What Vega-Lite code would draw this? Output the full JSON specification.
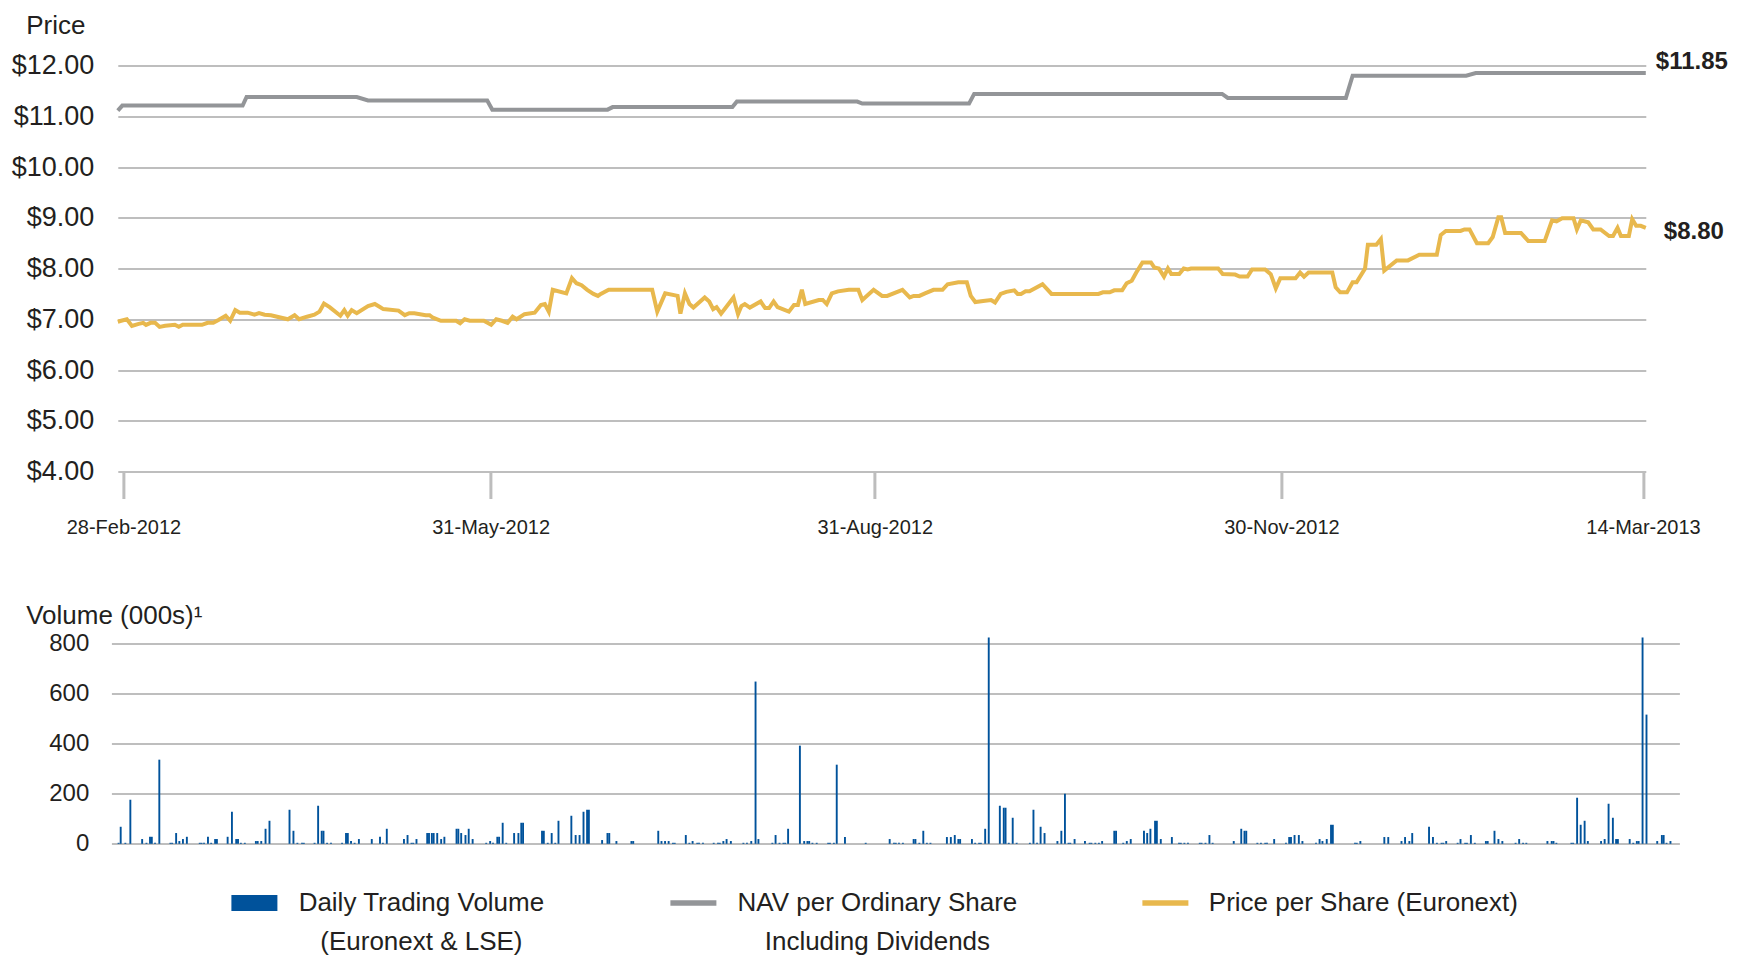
{
  "$schema": "https://vega.github.io/schema/vega-lite/v6.json",
  "background": "white",
  "padding": {"left": 10.4, "top": 12.5, "right": 4, "bottom": 4},
  "config": {
    "font": "Liberation Sans, Arial, sans-serif",
    "view": {"stroke": null}
  },
  "datasets": {
    "nav": [
      {"n": 0, "v": 11.11}, {"n": 0.8, "v": 11.21}, {"n": 22.1, "v": 11.21}, {"n": 22.8, "v": 11.38},
      {"n": 42.3, "v": 11.38}, {"n": 44.3, "v": 11.31}, {"n": 65.4, "v": 11.31}, {"n": 66.3, "v": 11.13},
      {"n": 86.7, "v": 11.13}, {"n": 87.6, "v": 11.18}, {"n": 108.8, "v": 11.18}, {"n": 109.6, "v": 11.29},
      {"n": 130.9, "v": 11.29}, {"n": 131.8, "v": 11.25}, {"n": 150.7, "v": 11.25}, {"n": 151.6, "v": 11.44},
      {"n": 195.5, "v": 11.44}, {"n": 196.5, "v": 11.36}, {"n": 217.4, "v": 11.36}, {"n": 218.6, "v": 11.8},
      {"n": 238.7, "v": 11.8}, {"n": 240.4, "v": 11.85}, {"n": 270.5, "v": 11.85}
    ],
    "price": [
      {"n":0,"v":6.95},{"n":0.6,"v":6.97},{"n":1.6,"v":7.0},{"n":2.5,"v":6.87},{"n":3.7,"v":6.91},{"n":4.5,"v":6.93},{"n":5.0,"v":6.89},{"n":5.8,"v":6.93},{"n":6.6,"v":6.93},{"n":7.4,"v":6.85},{"n":8.4,"v":6.87},{"n":10.1,"v":6.89},{"n":10.8,"v":6.85},{"n":11.5,"v":6.89},{"n":14.9,"v":6.89},{"n":15.9,"v":6.93},{"n":16.9,"v":6.93},{"n":17.9,"v":6.99},{"n":19.1,"v":7.07},{"n":19.9,"v":6.97},{"n":20.8,"v":7.18},{"n":21.6,"v":7.13},{"n":23.0,"v":7.13},{"n":24.2,"v":7.09},{"n":25.0,"v":7.12},{"n":26.0,"v":7.09},{"n":27.1,"v":7.08},{"n":30.1,"v":7.0},{"n":31.3,"v":7.08},{"n":32.1,"v":7.0},{"n":33.5,"v":7.05},{"n":34.8,"v":7.09},{"n":35.7,"v":7.15},{"n":36.5,"v":7.31},{"n":37.5,"v":7.24},{"n":39.4,"v":7.07},{"n":40.1,"v":7.18},{"n":40.7,"v":7.07},{"n":41.4,"v":7.18},{"n":42.3,"v":7.12},{"n":44.3,"v":7.26},{"n":45.5,"v":7.3},{"n":46.4,"v":7.24},{"n":47.0,"v":7.2},{"n":49.7,"v":7.17},{"n":50.8,"v":7.08},{"n":51.6,"v":7.12},{"n":52.5,"v":7.12},{"n":54.5,"v":7.08},{"n":55.2,"v":7.08},{"n":55.8,"v":7.03},{"n":57.2,"v":6.97},{"n":59.9,"v":6.97},{"n":60.6,"v":6.92},{"n":61.4,"v":7.0},{"n":62.3,"v":6.97},{"n":64.8,"v":6.97},{"n":66.1,"v":6.89},{"n":67.0,"v":7.0},{"n":68.0,"v":6.97},{"n":69.0,"v":6.93},{"n":69.9,"v":7.05},{"n":70.6,"v":7.0},{"n":72.0,"v":7.1},{"n":73.8,"v":7.13},{"n":74.9,"v":7.28},{"n":75.6,"v":7.3},{"n":76.3,"v":7.15},{"n":77.0,"v":7.58},{"n":79.4,"v":7.51},{"n":80.4,"v":7.81},{"n":81.2,"v":7.71},{"n":82.1,"v":7.67},{"n":83.1,"v":7.58},{"n":84.2,"v":7.5},{"n":85.0,"v":7.46},{"n":85.5,"v":7.5},{"n":86.9,"v":7.58},{"n":94.6,"v":7.58},{"n":95.5,"v":7.15},{"n":96.9,"v":7.51},{"n":99.1,"v":7.46},{"n":99.6,"v":7.11},{"n":100.4,"v":7.51},{"n":101.2,"v":7.3},{"n":101.9,"v":7.23},{"n":103.9,"v":7.43},{"n":104.7,"v":7.35},{"n":105.4,"v":7.2},{"n":106.0,"v":7.24},{"n":106.8,"v":7.11},{"n":109.0,"v":7.43},{"n":109.8,"v":7.1},{"n":110.4,"v":7.26},{"n":111.0,"v":7.3},{"n":111.9,"v":7.23},{"n":113.8,"v":7.35},{"n":114.6,"v":7.22},{"n":115.3,"v":7.22},{"n":116.1,"v":7.35},{"n":116.8,"v":7.24},{"n":118.8,"v":7.15},{"n":119.7,"v":7.28},{"n":120.4,"v":7.28},{"n":121.1,"v":7.58},{"n":121.7,"v":7.3},{"n":124.1,"v":7.38},{"n":124.8,"v":7.38},{"n":125.5,"v":7.3},{"n":126.4,"v":7.51},{"n":127.5,"v":7.55},{"n":129.4,"v":7.58},{"n":131.1,"v":7.58},{"n":131.8,"v":7.38},{"n":133.8,"v":7.58},{"n":135.3,"v":7.46},{"n":136.2,"v":7.46},{"n":138.9,"v":7.58},{"n":140.2,"v":7.43},{"n":140.9,"v":7.46},{"n":141.9,"v":7.46},{"n":142.9,"v":7.51},{"n":144.4,"v":7.58},{"n":146.0,"v":7.58},{"n":146.9,"v":7.69},{"n":148.8,"v":7.73},{"n":150.3,"v":7.73},{"n":151.0,"v":7.46},{"n":151.8,"v":7.34},{"n":153.2,"v":7.36},{"n":154.6,"v":7.38},{"n":155.3,"v":7.33},{"n":156.3,"v":7.5},{"n":157.3,"v":7.54},{"n":158.7,"v":7.57},{"n":159.3,"v":7.5},{"n":159.9,"v":7.5},{"n":160.7,"v":7.55},{"n":161.4,"v":7.55},{"n":163.7,"v":7.69},{"n":165.3,"v":7.5},{"n":173.6,"v":7.5},{"n":174.4,"v":7.53},{"n":175.6,"v":7.53},{"n":176.4,"v":7.57},{"n":177.8,"v":7.57},{"n":178.6,"v":7.71},{"n":179.5,"v":7.76},{"n":180.3,"v":7.92},{"n":181.4,"v":8.12},{"n":182.9,"v":8.12},{"n":183.5,"v":8.02},{"n":184.3,"v":8.0},{"n":185.2,"v":7.84},{"n":185.9,"v":8.0},{"n":186.5,"v":7.89},{"n":187.9,"v":7.89},{"n":188.7,"v":8.0},{"n":189.4,"v":7.98},{"n":190.0,"v":8.0},{"n":194.8,"v":8.0},{"n":195.6,"v":7.89},{"n":197.8,"v":7.88},{"n":198.6,"v":7.84},{"n":200.0,"v":7.84},{"n":200.8,"v":7.98},{"n":203.1,"v":7.98},{"n":204.1,"v":7.89},{"n":205.0,"v":7.61},{"n":205.8,"v":7.81},{"n":208.5,"v":7.81},{"n":209.3,"v":7.92},{"n":210.0,"v":7.84},{"n":210.8,"v":7.92},{"n":215.0,"v":7.92},{"n":215.6,"v":7.63},{"n":216.4,"v":7.53},{"n":217.6,"v":7.53},{"n":218.6,"v":7.73},{"n":219.3,"v":7.73},{"n":220.8,"v":8.0},{"n":221.3,"v":8.47},{"n":222.8,"v":8.47},{"n":223.6,"v":8.58},{"n":224.2,"v":7.96},{"n":226.4,"v":8.16},{"n":228.4,"v":8.16},{"n":230.4,"v":8.27},{"n":233.5,"v":8.27},{"n":234.2,"v":8.66},{"n":235.1,"v":8.74},{"n":237.7,"v":8.74},{"n":238.4,"v":8.77},{"n":239.3,"v":8.77},{"n":240.6,"v":8.5},{"n":242.6,"v":8.5},{"n":243.4,"v":8.62},{"n":244.4,"v":9.01},{"n":244.9,"v":9.01},{"n":245.6,"v":8.7},{"n":248.4,"v":8.7},{"n":249.7,"v":8.54},{"n":252.6,"v":8.54},{"n":253.9,"v":8.95},{"n":254.7,"v":8.93},{"n":255.7,"v":8.99},{"n":257.7,"v":8.99},{"n":258.3,"v":8.77},{"n":259.0,"v":8.95},{"n":260.3,"v":8.91},{"n":261.2,"v":8.77},{"n":262.5,"v":8.77},{"n":264.0,"v":8.64},{"n":264.7,"v":8.64},{"n":265.5,"v":8.8},{"n":266.1,"v":8.64},{"n":267.5,"v":8.64},{"n":268.1,"v":8.97},{"n":268.8,"v":8.84},{"n":269.6,"v":8.84},{"n":270.5,"v":8.8}
    ],
    "volume": [
      {"k":0.6,"vol":4},{"k":1.2,"vol":68},{"k":2.5,"vol":4},{"k":3.9,"vol":176},{"k":7.2,"vol":19},{"k":8.4,"vol":4},{"k":9.4,"vol":28},{"k":9.9,"vol":28},{"k":10.8,"vol":4},{"k":12.0,"vol":336},{"k":15.1,"vol":4},{"k":15.6,"vol":4},{"k":16.7,"vol":43},{"k":17.6,"vol":11},{"k":18.6,"vol":19},{"k":19.7,"vol":28},{"k":23.3,"vol":4},{"k":23.8,"vol":4},{"k":24.5,"vol":4},{"k":25.6,"vol":28},{"k":26.5,"vol":4},{"k":27.6,"vol":19},{"k":28.1,"vol":19},{"k":31.1,"vol":28},{"k":32.3,"vol":128},{"k":33.5,"vol":19},{"k":34.0,"vol":19},{"k":34.8,"vol":4},{"k":35.9,"vol":4},{"k":39.0,"vol":11},{"k":39.5,"vol":11},{"k":40.5,"vol":11},{"k":41.7,"vol":60},{"k":42.8,"vol":92},{"k":48.4,"vol":136},{"k":49.5,"vol":52},{"k":50.6,"vol":4},{"k":51.9,"vol":4},{"k":52.4,"vol":4},{"k":55.4,"vol":4},{"k":56.4,"vol":152},{"k":57.4,"vol":52},{"k":57.9,"vol":52},{"k":58.9,"vol":4},{"k":60.0,"vol":4},{"k":63.1,"vol":4},{"k":64.2,"vol":43},{"k":64.7,"vol":43},{"k":65.6,"vol":11},{"k":66.6,"vol":4},{"k":67.8,"vol":19},{"k":71.4,"vol":19},{"k":73.7,"vol":28},{"k":74.5,"vol":4},{"k":75.6,"vol":60},{"k":80.4,"vol":19},{"k":81.4,"vol":35},{"k":82.5,"vol":4},{"k":83.0,"vol":4},{"k":83.9,"vol":19},{"k":86.9,"vol":43},{"k":87.4,"vol":43},{"k":88.2,"vol":43},{"k":88.7,"vol":43},{"k":89.7,"vol":43},{"k":90.8,"vol":19},{"k":91.7,"vol":28},{"k":95.1,"vol":60},{"k":95.6,"vol":60},{"k":96.4,"vol":43},{"k":97.6,"vol":35},{"k":98.5,"vol":60},{"k":99.6,"vol":19},{"k":103.4,"vol":4},{"k":104.5,"vol":11},{"k":105.3,"vol":4},{"k":106.5,"vol":28},{"k":107.0,"vol":28},{"k":108.0,"vol":84},{"k":109.0,"vol":4},{"k":111.2,"vol":43},{"k":112.4,"vol":43},{"k":113.2,"vol":84},{"k":113.7,"vol":84},{"k":119.0,"vol":52},{"k":119.5,"vol":52},{"k":120.6,"vol":4},{"k":121.7,"vol":43},{"k":122.7,"vol":4},{"k":123.6,"vol":92},{"k":127.2,"vol":112},{"k":128.4,"vol":35},{"k":129.5,"vol":35},{"k":130.6,"vol":128},{"k":131.6,"vol":136},{"k":132.1,"vol":136},{"k":135.8,"vol":15},
      {"k":137.3,"vol":43},{"k":137.8,"vol":43},{"k":139.8,"vol":11},{"k":144.0,"vol":11},{"k":144.5,"vol":11},{"k":151.5,"vol":52},{"k":152.4,"vol":11},{"k":153.4,"vol":11},{"k":154.4,"vol":11},{"k":155.6,"vol":4},{"k":156.1,"vol":4},{"k":159.2,"vol":35},{"k":160.2,"vol":4},{"k":161.1,"vol":11},{"k":162.4,"vol":4},{"k":162.9,"vol":4},{"k":164.0,"vol":4},{"k":167.0,"vol":4},{"k":168.2,"vol":4},{"k":168.7,"vol":4},{"k":169.7,"vol":11},{"k":170.6,"vol":19},{"k":171.8,"vol":11},{"k":175.3,"vol":4},{"k":176.3,"vol":4},{"k":177.5,"vol":11},{"k":178.7,"vol":648},{"k":179.5,"vol":19},{"k":183.4,"vol":4},{"k":184.3,"vol":35},{"k":185.4,"vol":4},{"k":186.5,"vol":4},{"k":187.0,"vol":4},{"k":187.8,"vol":60},{"k":191.1,"vol":392},{"k":192.3,"vol":11},{"k":193.2,"vol":11},{"k":193.7,"vol":11},{"k":194.6,"vol":4},{"k":195.8,"vol":4},{"k":199.0,"vol":4},{"k":199.5,"vol":4},{"k":200.6,"vol":4},{"k":201.4,"vol":316},{"k":203.7,"vol":27},{"k":209.5,"vol":4},{"k":216.2,"vol":19},{"k":217.4,"vol":4},{"k":217.9,"vol":4},{"k":218.8,"vol":4},{"k":219.9,"vol":4},{"k":222.9,"vol":19},{"k":223.4,"vol":19},{"k":224.5,"vol":4},{"k":225.6,"vol":52},{"k":226.6,"vol":4},{"k":227.6,"vol":4},{"k":232.2,"vol":27},{"k":233.3,"vol":27},{"k":234.4,"vol":35},{"k":235.4,"vol":19},{"k":235.9,"vol":19},{"k":239.2,"vol":19},{"k":240.1,"vol":4},{"k":241.2,"vol":4},{"k":241.7,"vol":4},{"k":242.9,"vol":60},{"k":243.9,"vol":824},{"k":247.0,"vol":152},{"k":248.1,"vol":144},{"k":248.6,"vol":144},{"k":249.5,"vol":4},{"k":250.6,"vol":104},{"k":251.7,"vol":4},{"k":255.4,"vol":4},{"k":256.4,"vol":136},{"k":257.4,"vol":4},{"k":258.4,"vol":68},{"k":259.5,"vol":43},{"k":263.1,"vol":11},{"k":264.2,"vol":52},{"k":265.2,"vol":200},{"k":266.2,"vol":4},{"k":266.7,"vol":4},{"k":267.9,"vol":19},{"k":270.8,"vol":11},{"k":272.1,"vol":4},{"k":272.6,"vol":4},{"k":273.7,"vol":4},{"k":274.7,"vol":4},{"k":275.6,"vol":11},{"k":279.0,"vol":52},{"k":279.5,"vol":52},{"k":281.5,"vol":4},{"k":282.5,"vol":11},{"k":283.6,"vol":19},{"k":287.3,"vol":52},{"k":288.2,"vol":43},{"k":289.1,"vol":60},{"k":290.4,"vol":92},{"k":290.9,"vol":92},{"k":292.0,"vol":19},{"k":295.1,"vol":27},{"k":297.1,"vol":4},{"k":297.6,"vol":4},{"k":298.6,"vol":4},{"k":299.6,"vol":4},
      {"k":302.9,"vol":4},{"k":303.4,"vol":4},{"k":304.5,"vol":4},{"k":305.6,"vol":35},{"k":306.5,"vol":4},{"k":312.4,"vol":11},{"k":314.5,"vol":60},{"k":315.4,"vol":52},{"k":315.9,"vol":52},{"k":319.0,"vol":4},{"k":320.0,"vol":4},{"k":321.2,"vol":4},{"k":321.7,"vol":4},{"k":323.7,"vol":19},{"k":327.0,"vol":4},{"k":327.9,"vol":27},{"k":328.4,"vol":27},{"k":329.4,"vol":35},{"k":330.6,"vol":35},{"k":331.6,"vol":11},{"k":335.4,"vol":4},{"k":336.4,"vol":19},{"k":337.2,"vol":11},{"k":338.4,"vol":19},{"k":339.6,"vol":76},{"k":340.1,"vol":76},{"k":346.3,"vol":4},{"k":346.8,"vol":4},{"k":347.8,"vol":11},{"k":354.5,"vol":27},{"k":355.6,"vol":27},{"k":359.3,"vol":11},{"k":360.3,"vol":27},{"k":361.5,"vol":11},{"k":362.3,"vol":43},{"k":367.0,"vol":68},{"k":368.1,"vol":27},{"k":369.2,"vol":4},{"k":370.5,"vol":4},{"k":371.0,"vol":4},{"k":371.8,"vol":11},{"k":375.0,"vol":4},{"k":375.8,"vol":19},{"k":377.1,"vol":4},{"k":377.6,"vol":4},{"k":378.7,"vol":35},{"k":379.8,"vol":4},{"k":382.9,"vol":11},{"k":383.4,"vol":11},{"k":385.3,"vol":52},{"k":386.4,"vol":19},{"k":387.5,"vol":11},{"k":391.2,"vol":4},{"k":392.2,"vol":19},{"k":393.3,"vol":4},{"k":394.2,"vol":4},{"k":400.1,"vol":11},{"k":401.3,"vol":11},{"k":401.8,"vol":11},{"k":402.6,"vol":4},{"k":406.8,"vol":4},{"k":407.3,"vol":4},{"k":408.4,"vol":184},{"k":409.4,"vol":76},{"k":410.5,"vol":92},{"k":411.4,"vol":11},{"k":415.1,"vol":11},{"k":416.1,"vol":19},{"k":417.2,"vol":160},{"k":418.4,"vol":104},{"k":419.3,"vol":19},{"k":419.8,"vol":19},{"k":423.1,"vol":19},{"k":424.1,"vol":4},{"k":425.1,"vol":11},{"k":425.6,"vol":11},{"k":426.7,"vol":824},{"k":427.8,"vol":516},{"k":430.8,"vol":11},{"k":432.1,"vol":35},{"k":432.6,"vol":35},{"k":433.4,"vol":4},{"k":434.5,"vol":11}
    ]
  },
  "spacing": 64,
  "vconcat": [
    {
      "width": 1534.4,
      "height": 406,
      "layer": [
        {
          "data": {"name": "nav"},
          "mark": {"type": "line", "strokeWidth": 4, "interpolate": "linear"},
          "encoding": {
            "x": {
              "field": "n", "type": "quantitative",
              "scale": {"domain": [0, 270.5], "range": [6.4, 1534.4], "nice": false, "zero": false},
              "axis": {
                "values": [1, 66, 134, 206, 270],
                "labelExpr": "datum.value == 1 ? '28-Feb-2012' : datum.value == 66 ? '31-May-2012' : datum.value == 134 ? '31-Aug-2012' : datum.value == 206 ? '30-Nov-2012' : '14-Mar-2013'",
                "grid": false, "domain": false, "ticks": true, "tickSize": 27, "tickWidth": 3, "tickColor": "#BDBDBD",
                "labelFontSize": 20, "labelPadding": 19.5, "labelColor": "#231F20", "labelFlush": false, "labelOverlap": false,
                "title": null
              }
            },
            "y": {
              "field": "v", "type": "quantitative",
              "scale": {"domain": [4, 12], "nice": false, "zero": false},
              "axis": {
                "values": [4, 5, 6, 7, 8, 9, 10, 11, 12],
                "format": "$.2f",
                "grid": true, "gridColor": "#BEBEBE", "gridWidth": 2,
                "domain": false, "ticks": false,
                "labelFontSize": 27, "labelPadding": 17.6, "labelColor": "#231F20",
                "title": "Price", "titleAngle": 0, "titleX": -85.7, "titleY": -31.7,
                "titleAlign": "left", "titleBaseline": "alphabetic", "titleFontSize": 26,
                "titleFontWeight": "normal", "titleColor": "#231F20"
              }
            },
            "color": {
              "datum": "NAV per Ordinary Share Including Dividends",
              "scale": {
                "domain": ["Daily Trading Volume (Euronext & LSE)", "NAV per Ordinary Share Including Dividends", "Price per Share (Euronext)"],
                "range": ["#00529B", "#939598", "#E8B84D"]
              },
              "legend": {
                "orient": "none", "legendX": 120, "legendY": 814.5, "direction": "horizontal", "title": null,
                "symbolSize": 2116, "symbolStrokeWidth": 0, "labelFontSize": 26, "labelColor": "#231F20",
                "labelOffset": 20, "columnPadding": 125, "padding": 0, "labelLimit": 500,
                "labelExpr": "datum.label == 'Daily Trading Volume (Euronext & LSE)' ? ['Daily Trading Volume', '(Euronext & LSE)'] : datum.label == 'NAV per Ordinary Share Including Dividends' ? ['NAV per Ordinary Share', 'Including Dividends'] : [datum.label, '']",
                "encode": {
                  "symbols": {"update": {
                    "shape": {"signal": "datum.value == 'Daily Trading Volume (Euronext & LSE)' ? 'M-1,-0.35H1V0.35H-1Z' : 'M-1,-0.12H1V0.12H-1Z'"},
                    "fill": {"scale": "color", "field": "value"},
                    "strokeWidth": {"value": 0},
                    "opacity": {"value": 1}
                  }},
                  "labels": {"update": {
                    "align": {"value": "center"},
                    "dx": {"signal": "datum.value == 'Daily Trading Volume (Euronext & LSE)' ? 124 : datum.value == 'NAV per Ordinary Share Including Dividends' ? 141 : 155"},
                    "lineHeight": {"value": 39}
                  }}
                }
              }
            }
          }
        },
        {
          "data": {"name": "price"},
          "mark": {"type": "line", "strokeWidth": 4, "interpolate": "linear"},
          "encoding": {
            "x": {"field": "n", "type": "quantitative"},
            "y": {"field": "v", "type": "quantitative"},
            "color": {"datum": "Price per Share (Euronext)"}
          }
        },
        {
          "data": {"name": "nav"},
          "transform": [{"filter": "datum.n == 270.5"}],
          "mark": {"type": "text", "align": "left", "baseline": "middle", "dx": 10, "dy": -11, "fontSize": 24, "fontWeight": "bold", "color": "#231F20"},
          "encoding": {
            "x": {"field": "n", "type": "quantitative"},
            "y": {"field": "v", "type": "quantitative"},
            "text": {"field": "v", "type": "quantitative", "format": "$.2f"}
          }
        },
        {
          "data": {"name": "price"},
          "transform": [{"filter": "datum.n == 270.5"}],
          "mark": {"type": "text", "align": "left", "baseline": "middle", "dx": 18, "dy": 4, "fontSize": 24, "fontWeight": "bold", "color": "#231F20"},
          "encoding": {
            "x": {"field": "n", "type": "quantitative"},
            "y": {"field": "v", "type": "quantitative"},
            "text": {"field": "v", "type": "quantitative", "format": "$.2f"}
          }
        }
      ]
    },
    {
      "width": 1568,
      "height": 200.3,
      "data": {"name": "volume"},
      "mark": {"type": "bar", "width": 1.9},
      "encoding": {
        "x": {"field": "k", "type": "quantitative", "scale": {"domain": [0, 435.6], "nice": false, "zero": false}, "axis": null},
        "y": {
          "field": "vol", "type": "quantitative",
          "scale": {"domain": [0, 800], "nice": false},
          "axis": {
            "values": [0, 200, 400, 600, 800],
            "grid": true, "gridColor": "#BEBEBE", "gridWidth": 2,
            "domain": false, "ticks": false,
            "labelFontSize": 24, "labelPadding": 22.6, "labelColor": "#231F20",
            "title": "Volume (000s)¹", "titleAngle": 0, "titleX": -85.7, "titleY": -20,
            "titleAlign": "left", "titleBaseline": "alphabetic", "titleFontSize": 26,
            "titleFontWeight": "normal", "titleColor": "#231F20"
          }
        },
        "color": {
          "datum": "Daily Trading Volume (Euronext & LSE)",
          "legend": {
            "orient": "none", "legendX": 120, "legendY": 814.5, "direction": "horizontal", "title": null,
            "symbolSize": 2116, "symbolStrokeWidth": 0, "labelFontSize": 26, "labelColor": "#231F20",
            "labelOffset": 20, "columnPadding": 125, "padding": 0, "labelLimit": 500
          }
        }
      }
    }
  ]
}
